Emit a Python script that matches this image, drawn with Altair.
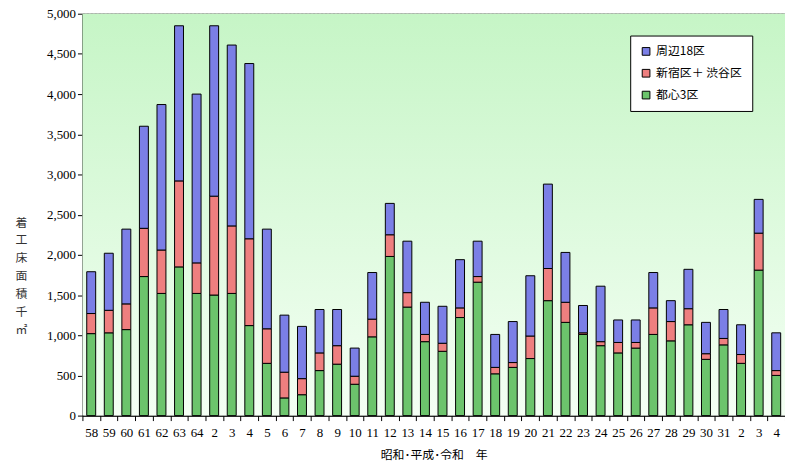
import pandas as pd
import altair as alt

years = ["58", "59", "60", "61", "62", "63", "64", "2", "3", "4", "5", "6", "7", "8", "9",
         "10", "11", "12", "13", "14", "15", "16", "17", "18", "19", "20", "21", "22", "23",
         "24", "25", "26", "27", "28", "29", "30", "31", "2 ", "3 ", "4 "]
# cumulative tops
toshin = [1020, 1030, 1070, 1730, 1520, 1850, 1520, 1500, 1520, 1120, 650, 220, 260, 560, 640,
          390, 980, 1980, 1350, 920, 800, 1220, 1660, 520, 600, 710, 1430, 1160, 1010,
          870, 780, 840, 1010, 930, 1130, 700, 880, 650, 1810, 500]
shinjuku_top = [1270, 1310, 1390, 2330, 2060, 2920, 1900, 2730, 2360, 2200, 1080, 540, 460, 780, 870,
                490, 1200, 2250, 1530, 1010, 900, 1340, 1730, 600, 660, 990, 1830, 1410, 1030,
                920, 910, 910, 1340, 1170, 1330, 770, 960, 760, 2270, 560]
total = [1790, 2020, 2320, 3600, 3870, 4850, 4000, 4850, 4610, 4380, 2320, 1250, 1110, 1320, 1320,
         840, 1780, 2640, 2170, 1410, 1360, 1940, 2170, 1010, 1170, 1740, 2880, 2030, 1370,
         1610, 1190, 1190, 1780, 1430, 1820, 1160, 1320, 1130, 2690, 1030]

series = ["周辺18区", "新宿区＋ 渋谷区", "都心3区"]
colors = ["#7b7fe6", "#ee7f7f", "#6cc46c"]

rows = []
for i, y in enumerate(years):
    rows.append({"year": y, "area": "都心3区", "value": toshin[i], "o": 0})
    rows.append({"year": y, "area": "新宿区＋ 渋谷区", "value": shinjuku_top[i] - toshin[i], "o": 1})
    rows.append({"year": y, "area": "周辺18区", "value": total[i] - shinjuku_top[i], "o": 2})
df = pd.DataFrame(rows)

W, H = 708, 405
serif = "Liberation Serif"
jp = "Noto Sans CJK JP"

bg = alt.Chart(pd.DataFrame({"a": [0]})).mark_rect(
    color=alt.LinearGradient(gradient="linear", x1=0, y1=0, x2=0, y2=1,
                             stops=[alt.GradientStop(color="#c6f5c6", offset=0),
                                    alt.GradientStop(color="#f4fff4", offset=1)])
).encode(x=alt.value(0), x2=alt.value(W), y=alt.value(0), y2=alt.value(H))

bars = alt.Chart(df).mark_bar(size=9, stroke="black", strokeWidth=1).encode(
    x=alt.X("year:N", sort=years, title="昭和･平成･令和　年",
            scale=alt.Scale(paddingInner=0, paddingOuter=0),
            axis=alt.Axis(labelAngle=0, labelFont=serif, labelFontSize=13, labelColor="black",
                          titleFont=jp, titleFontSize=12, titleFontWeight="normal",
                          titleColor="black", domainColor="black", tickColor="black",
                          tickBand="extent", labelPadding=6, titlePadding=10)),
    y=alt.Y("value:Q", stack="zero",
            scale=alt.Scale(domain=[0, 5000]),
            title=["着", "工", "床", "面", "積", "\u00a0", "千", "㎡"],
            axis=alt.Axis(values=list(range(0, 5001, 500)), format=",.0f", labelFont=serif,
                          labelFontSize=13, labelColor="black", titleFont=jp, titleFontSize=12,
                          titleFontWeight="normal", titleColor="#333", titleAngle=0,
                          titleAlign="center", titleBaseline="middle", titleX=-62, titleY=210,
                          titleLineHeight=18, domainColor="black", tickColor="black",
                          gridColor="#666", gridDash=[2, 2], gridWidth=0.8)),
    color=alt.Color("area:N", sort=series,
                    scale=alt.Scale(domain=series, range=colors),
                    legend=alt.Legend(title=None, orient="none", legendX=552, legendY=22,
                                      fillColor="white", strokeColor="black", padding=10,
                                      symbolType="square", symbolSize=60,
                                      symbolStrokeColor="black", symbolStrokeWidth=1,
                                      labelFont=jp, labelFontSize=12, labelColor="black",
                                      rowPadding=10)),
    order=alt.Order("o:Q"),
)

chart = alt.layer(bg, bars).properties(
    width=W, height=H,
    autosize=alt.AutoSizeParams(type="none"),
    padding={"left": 75, "top": 4, "right": 0, "bottom": 45},
).configure_view(stroke="black", strokeWidth=1)

chart.save("out.html", embed_options={"renderer": "svg", "actions": False})
